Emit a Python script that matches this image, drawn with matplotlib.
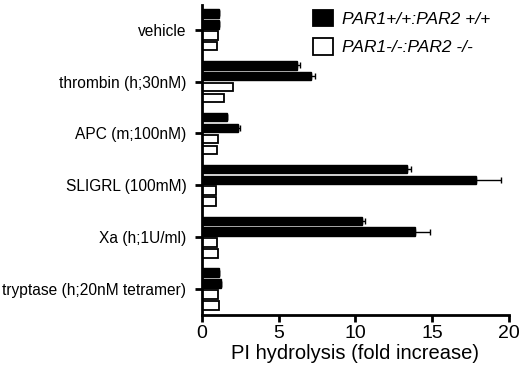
import matplotlib.pyplot as plt
import numpy as np

plt.rcParams['font.family'] = ['Liberation Sans', 'DejaVu Sans']

categories = ['vehicle', 'thrombin (h;30nM)', 'APC (m;100nM)', 'SLIGRL (100mM)',
              'Xa (h;1U/ml)', 'tryptase (h;20nM tetramer)']

# two bars per genotype in each group
wt_a = [1.15, 6.2, 1.65, 13.35, 10.4, 1.1]
wt_a_err = [0.0, 0.2, 0.0, 0.25, 0.2, 0.0]
wt_b = [1.1, 7.1, 2.35, 17.85, 13.9, 1.25]
wt_b_err = [0.0, 0.3, 0.12, 1.65, 0.95, 0.0]
ko_a = [1.05, 2.05, 1.05, 0.9, 1.0, 1.05]
ko_b = [1.0, 1.45, 1.0, 0.9, 1.05, 1.15]

wt_label = 'PAR1+/+:PAR2 +/+'
ko_label = 'PAR1-/-:PAR2 -/-'


def main():
    fig = plt.figure(figsize=(5.2, 3.78), dpi=100)
    ax = fig.add_axes([0.388, 0.167, 0.591, 0.82])

    y = np.arange(len(categories))
    pitch = 0.21
    h = 0.165
    err_kw = dict(ecolor='black', capsize=2, elinewidth=1, capthick=1)

    ax.barh(y - 1.5 * pitch, wt_a, height=h, color='black', edgecolor='black',
            xerr=[np.zeros(len(wt_a)), wt_a_err], error_kw=err_kw, label=wt_label)
    ax.barh(y - 0.5 * pitch, wt_b, height=h, color='black', edgecolor='black',
            xerr=[np.zeros(len(wt_b)), wt_b_err], error_kw=err_kw)
    ax.barh(y + 0.5 * pitch, ko_a, height=h, color='white', edgecolor='black',
            linewidth=1.3, label=ko_label)
    ax.barh(y + 1.5 * pitch, ko_b, height=h, color='white', edgecolor='black',
            linewidth=1.3)

    ax.set_xlim(0, 20)
    ax.set_ylim(5.5, -0.48)
    ax.set_xticks([0, 5, 10, 15, 20])
    ax.set_yticks(y)
    ax.set_yticklabels(categories, fontsize=11.2)
    ax.tick_params(axis='x', labelsize=14, width=2, length=5, pad=2)
    ax.tick_params(axis='y', width=2, length=5, pad=6)
    ax.set_xlabel('PI hydrolysis (fold increase)', fontsize=14.5, labelpad=2)

    for side in ['top', 'right']:
        ax.spines[side].set_visible(False)
    for side in ['left', 'bottom']:
        ax.spines[side].set_linewidth(2)

    leg = ax.legend(loc='upper left', bbox_to_anchor=(0.31, 1.035), frameon=False,
                    prop={'style': 'italic', 'size': 12.5}, handlelength=1.2,
                    handleheight=1.1, labelspacing=0.65, handletextpad=0.5)
    for patch in leg.get_patches():
        patch.set_linewidth(1.3)

    fig.savefig('out.png', dpi=100)
    plt.close()


if __name__ == '__main__':
    main()
